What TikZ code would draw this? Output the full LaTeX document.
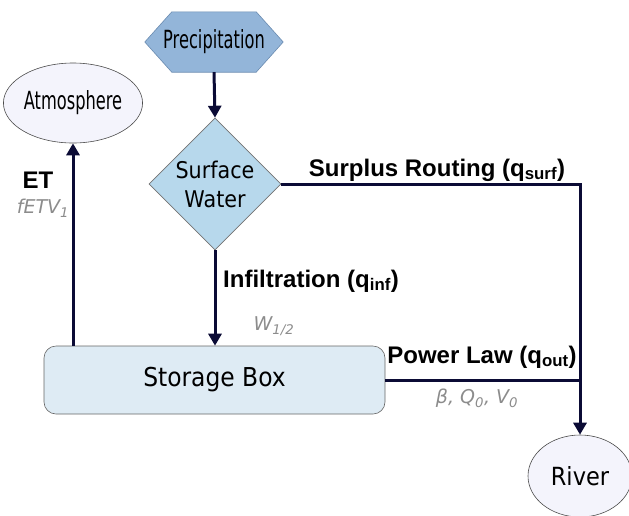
\documentclass[tikz,border=0pt]{standalone}
\usepackage{fontspec}
\setmainfont{DejaVu Sans}
\newfontfamily\narrowfont[FakeStretch=0.65]{DejaVu Sans}
\newfontfamily\boxfont[FakeStretch=0.9]{DejaVu Sans}
\newfontfamily\labelfont{Liberation Sans}
\usetikzlibrary{arrows.meta,shapes.geometric,backgrounds}

\definecolor{flowline}{HTML}{0B0B35}
\definecolor{precipfill}{HTML}{93B5D9}
\definecolor{precipdraw}{HTML}{6A8BB0}
\definecolor{surffill}{HTML}{B7D8EC}
\definecolor{storefill}{HTML}{DEEBF4}
\definecolor{sinkfill}{HTML}{F4F4FC}
\definecolor{paramgray}{HTML}{8C8C8C}

\tikzset{
    flow/.style={draw=flowline, line width=3pt},
    flowarrow/.style={flow, -{Triangle[length=12pt,width=13pt]}},
    sink/.style={ellipse, draw=black!70, fill=sinkfill, line width=0.6pt, inner sep=0pt},
    fluxlabel/.style={font=\labelfont\bfseries\fontsize{24}{27}\selectfont, inner sep=0pt},
    paramlabel/.style={font=\itshape\fontsize{19}{22}\selectfont, text=paramgray, inner sep=0pt}
}

\begin{document}
\begin{tikzpicture}[x=1pt,y=-1pt]
        \useasboundingbox (0,0) rectangle (629,515);
        % boxes
        \node[minimum width=138pt, minimum height=60pt, inner sep=0pt,
              font=\narrowfont\fontsize{25}{28}\selectfont] (precip) at (214,42) {Precipitation};
        \begin{scope}[on background layer]
            \draw[draw=precipdraw, fill=precipfill, line width=0.6pt]
                (precip.west) -- ([xshift=27pt]precip.north west) -- ([xshift=-27pt]precip.north east)
                -- (precip.east) -- ([xshift=-27pt]precip.south east) -- ([xshift=27pt]precip.south west) -- cycle;
        \end{scope}
        \node[diamond, draw=black!55, fill=surffill, line width=0.6pt,
              minimum width=132pt, minimum height=132pt, inner sep=0pt, align=center,
              font=\boxfont\fontsize{23}{29}\selectfont] (surface) at (215,184) {Surface\\Water};
        \node[draw=black!60, fill=storefill, rounded corners=12pt, line width=0.6pt,
              minimum width=341pt, minimum height=68pt,
              font=\boxfont\fontsize{26}{30}\selectfont] (storage) at (214.5,380) {Storage Box};
        \node[sink, minimum width=104pt, minimum height=80pt,
              font=\narrowfont\fontsize{25}{28}\selectfont] (atmo) at (73,103) {Atmosphere};
        \node[sink, minimum width=104pt, minimum height=82pt,
              font=\boxfont\fontsize{25}{28}\selectfont] (river) at (580,476) {River};
        \coordinate (bend) at (580,184);

        % fluxes
        \draw[flowarrow] (precip.south) -- (surface.north);
        \draw[flowarrow] (surface.south) -- (surface |- storage.north);
        \draw[flowarrow] (surface.east) -- (bend) -- (river.north);
        \draw[flow] (storage.east) -- (storage.east -| bend);
        \draw[flowarrow] (atmo |- storage.north) -- (atmo.south);

        % labels
        \node[fluxlabel] (surplus) at (437,170) {Surplus Routing (q\textsubscript{surf})};
        \node[fluxlabel, anchor=west] (infil) at (223,281) {Infiltration (q\textsubscript{inf})};
        \node[fluxlabel] (power) at (482,357) {Power Law (q\textsubscript{out})};
        \node[fluxlabel] (et) at (38,180) {ET};
        \node[paramlabel] (etpar) at (43,208) {fETV\textsubscript{1}};
        \node[paramlabel] (infpar) at (274,326) {W\textsubscript{1/2}};
        \node[paramlabel] (powpar) at (477,398) {β, Q\textsubscript{0}, V\textsubscript{0}};
    \end{tikzpicture}
\end{document}
